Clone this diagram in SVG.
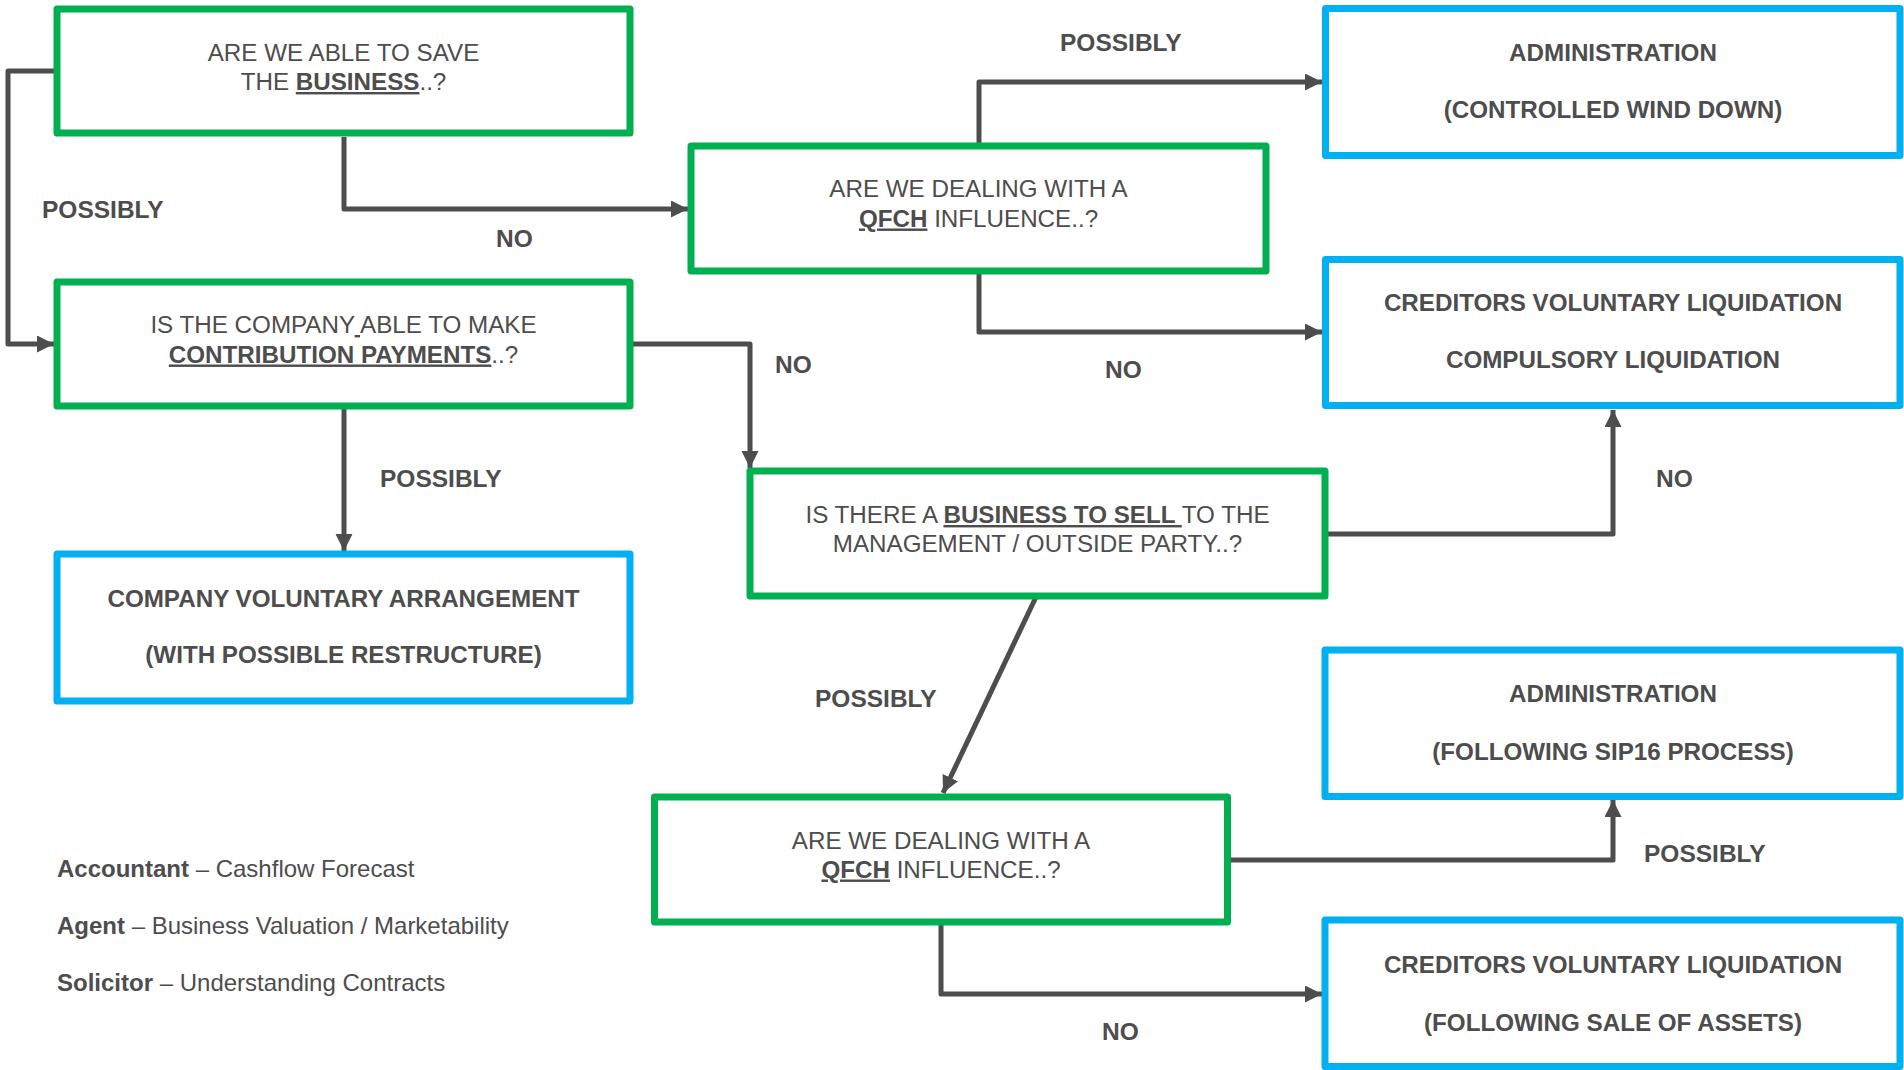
<svg xmlns="http://www.w3.org/2000/svg" width="1904" height="1070" viewBox="0 0 1904 1070">
<style>
.g{fill:#fff;stroke:#00b050;stroke-width:7;stroke-linejoin:round}
.b{fill:#fff;stroke:#00b0f0;stroke-width:7;stroke-linejoin:round}
text{font-family:"Liberation Sans",Arial,sans-serif;fill:#4d4d4d;font-size:24.2px}
.c{text-anchor:middle}
.bd{font-weight:bold}
.u{font-weight:bold;text-decoration:underline}
.ul{text-decoration:underline}
.lbl{font-weight:bold;font-size:24.5px}
.lg{font-size:24px}
.conn path{fill:none;stroke:#4d4d4d;stroke-width:5;stroke-linejoin:round;marker-end:url(#ah)}
</style>
<defs>
<marker id="ah" markerUnits="userSpaceOnUse" markerWidth="18" markerHeight="18" refX="17" refY="8.5" orient="auto">
<path d="M0,0 L17,8.5 L0,17 z" fill="#4d4d4d"/>
</marker>
</defs>
<rect width="1904" height="1070" fill="#fff"/>

<g class="conn" id="connectors">
<path d="M57 71 H8 V344 H54"/>
<path d="M344 137 V209 H688"/>
<path d="M979 146 V82 H1322"/>
<path d="M979 272 V332 H1322"/>
<path d="M630 344 H750 V468"/>
<path d="M1325 534 H1613 V410"/>
<path d="M1036 597 L943 793"/>
<path d="M344 406 V551"/>
<path d="M1227 860 H1613 V800"/>
<path d="M941 922 V994 H1322"/>
</g>

<g id="labels">
<text class="lbl" x="42" y="218">POSSIBLY</text>
<text class="lbl" x="496" y="247">NO</text>
<text class="lbl" x="1060" y="51">POSSIBLY</text>
<text class="lbl" x="775" y="373">NO</text>
<text class="lbl" x="1105" y="378">NO</text>
<text class="lbl" x="380" y="487">POSSIBLY</text>
<text class="lbl" x="1656" y="487">NO</text>
<text class="lbl" x="815" y="707">POSSIBLY</text>
<text class="lbl" x="1644" y="862">POSSIBLY</text>
<text class="lbl" x="1102" y="1040">NO</text>
</g>

<g id="save-business">
<rect class="g" x="57" y="9" width="573" height="124"/>
<text class="c" x="343.5" y="61">ARE WE ABLE TO SAVE</text>
<text class="c" x="343.5" y="90">THE <tspan class="u">BUSINESS</tspan>..?</text>
</g>

<g id="contribution">
<rect class="g" x="57" y="282" width="573" height="124"/>
<text class="c" x="343.5" y="333">IS THE COMPANY<tspan class="ul"> </tspan>ABLE TO MAKE</text>
<text class="c" x="343.5" y="362.5"><tspan class="u">CONTRIBUTION PAYMENTS</tspan>..?</text>
</g>

<g id="qfch1">
<rect class="g" x="691" y="146" width="575" height="125"/>
<text class="c" x="978.5" y="197">ARE WE DEALING WITH A</text>
<text class="c" x="978.5" y="226.5"><tspan class="u">QFCH</tspan> INFLUENCE..?</text>
</g>

<g id="admin1">
<rect class="b" x="1325.5" y="8.5" width="574.5" height="147"/>
<text class="c bd" x="1613" y="61">ADMINISTRATION</text>
<text class="c bd" x="1613" y="118">(CONTROLLED WIND DOWN)</text>
</g>

<g id="cvl1">
<rect class="b" x="1325.5" y="259.5" width="574.5" height="146"/>
<text class="c bd" x="1613" y="310.5">CREDITORS VOLUNTARY LIQUIDATION</text>
<text class="c bd" x="1613" y="368">COMPULSORY LIQUIDATION</text>
</g>

<g id="cva">
<rect class="b" x="57" y="554" width="573" height="147"/>
<text class="c bd" x="343.5" y="606.5">COMPANY VOLUNTARY ARRANGEMENT</text>
<text class="c bd" x="343.5" y="663">(WITH POSSIBLE RESTRUCTURE)</text>
</g>

<g id="business-sell">
<rect class="g" x="750" y="471" width="575" height="125"/>
<text class="c" x="1037.5" y="523">IS THERE A <tspan class="u">BUSINESS TO SELL </tspan>TO THE</text>
<text class="c" x="1037.5" y="552">MANAGEMENT / OUTSIDE PARTY..?</text>
</g>

<g id="admin2">
<rect class="b" x="1325" y="650" width="575" height="146.5"/>
<text class="c bd" x="1613" y="701.5">ADMINISTRATION</text>
<text class="c bd" x="1613" y="760">(FOLLOWING SIP16 PROCESS)</text>
</g>

<g id="qfch2">
<rect class="g" x="654.5" y="797" width="573" height="125"/>
<text class="c" x="941" y="849">ARE WE DEALING WITH A</text>
<text class="c" x="941" y="877.5"><tspan class="u">QFCH</tspan> INFLUENCE..?</text>
</g>

<g id="cvl2">
<rect class="b" x="1325" y="920" width="575" height="146.5"/>
<text class="c bd" x="1613" y="972.5">CREDITORS VOLUNTARY LIQUIDATION</text>
<text class="c bd" x="1613" y="1030.5">(FOLLOWING SALE OF ASSETS)</text>
</g>

<g id="legend">
<text class="lg" x="57" y="876.5"><tspan class="bd">Accountant</tspan> – Cashflow Forecast</text>
<text class="lg" x="57" y="934"><tspan class="bd">Agent</tspan> – Business Valuation / Marketability</text>
<text class="lg" x="57" y="991"><tspan class="bd">Solicitor</tspan> – Understanding Contracts</text>
</g>
</svg>
